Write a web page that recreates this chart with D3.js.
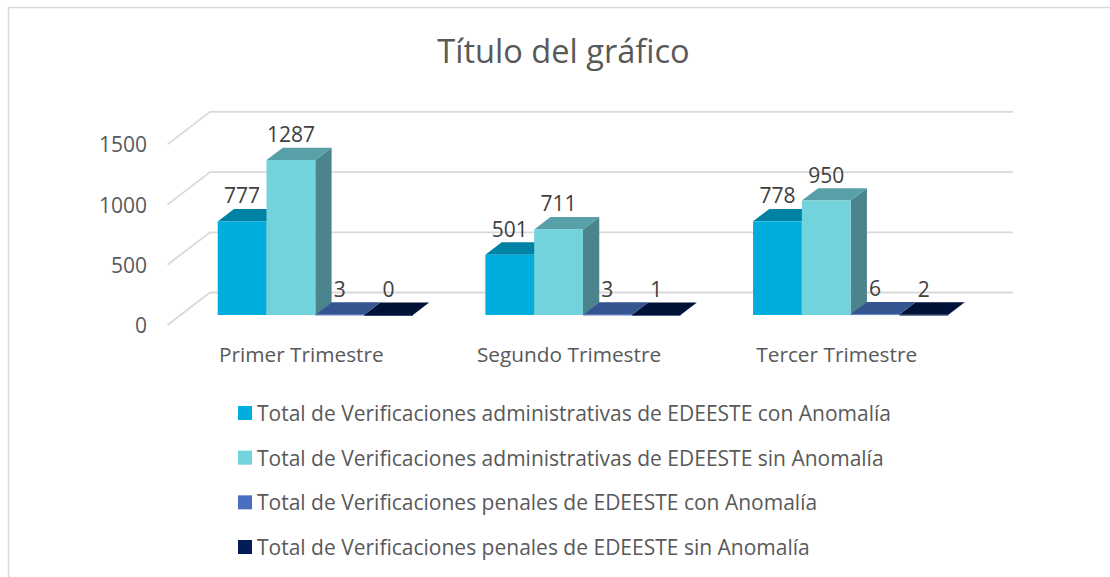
<!DOCTYPE html>
<html><head><meta charset="utf-8">
<script src="https://cdn.jsdelivr.net/npm/d3@7"></script>
<style>html,body{margin:0;padding:0;background:#fff;overflow:hidden}svg{display:block}text{font-family:"Open Sans",sans-serif}</style>
</head><body><svg id="c" width="1110" height="577"></svg>
<script>
const titleText = "Título del gráfico";
const categories = ["Primer Trimestre","Segundo Trimestre","Tercer Trimestre"];
const seriesNames = [
 "Total de Verificaciones administrativas de EDEESTE con Anomalía",
 "Total de Verificaciones administrativas de EDEESTE sin Anomalía",
 "Total de Verificaciones penales de EDEESTE con Anomalía",
 "Total de Verificaciones penales de EDEESTE sin Anomalía"];
const seriesFront = ["#00aedd","#73d3dd","#4a6fc0","#021d55"];
const seriesTop   = ["#0081a6","#58a0a8","#34558f","#011238"];
const seriesSide  = ["#006f8f","#4b848c","#2c4a7c","#010f30"];
const seriesValues = [[777,501,778],[1287,711,950],[3,3,6],[0,1,2]];
const yTicks = [0,500,1000,1500];

const svg = d3.select("#c");
const F = {dx:16.3, dy:-12.4};
const W = {dx:42.5, dy:-32.5};
const y = d3.scaleLinear().domain([0,1500]).range([325,144.4]);
const x0 = d3.scaleBand().domain(categories).range([167.5,970.5]);
const barW = 48.8, firstOff = 50.2;
const x1 = d3.scaleBand().domain(d3.range(4)).range([0,barW*4]);

svg.append("path").attr("d","M8.5 577V7.5H1110").attr("fill","none").attr("stroke","#d9d9d9").attr("stroke-width",1.5);

svg.append("text").attr("x",563.5).attr("y",63).attr("text-anchor","middle")
  .attr("font-size",32.6).attr("fill","#595959").text(titleText);

const grid = svg.append("g").attr("fill","none").attr("stroke","#d9d9d9").attr("stroke-width",1.8);
yTicks.forEach(t=>{
  const yy=y(t);
  grid.append("path").attr("d",`M${x0.range()[0]} ${yy}L${x0.range()[0]+W.dx} ${yy+W.dy}H${x0.range()[1]+W.dx}`);
  svg.append("text").attr("x",147).attr("y",yy+8).attr("text-anchor","end")
    .attr("font-size",21).attr("fill","#595959").text(t);
});

const baseY = 315;
const h = v => y(0)-y(v);
const labels = [];
categories.forEach((c,ci)=>{
  const g = svg.append("g");
  seriesValues.forEach((vals,si)=>{
    const v = vals[ci], l = x0(c)+firstOff+x1(si), r = l+barW, t = baseY-h(v);
    g.append("path").attr("fill",seriesSide[si])
      .attr("d",`M${r} ${t}l${F.dx} ${F.dy}V${baseY+F.dy}l${-F.dx} ${-F.dy}Z`);
    g.append("path").attr("fill",seriesTop[si])
      .attr("d",`M${l} ${t}l${F.dx} ${F.dy}H${r+F.dx}l${-F.dx} ${-F.dy}Z`);
    g.append("rect").attr("x",l).attr("y",t).attr("width",barW).attr("height",Math.max(h(v),0.8)).attr("fill",seriesFront[si]);
    labels.push({x:l+barW/2,y:t-18,v});
  });
});
labels.forEach(d=>svg.append("text").attr("x",d.x).attr("y",d.y).attr("text-anchor","middle")
  .attr("font-size",21).attr("fill","#404040").text(d.v));

categories.forEach(c=>svg.append("text").attr("x",x0(c)+x0.bandwidth()/2).attr("y",362)
  .attr("text-anchor","middle").attr("font-size",20.8).attr("fill","#595959").text(c));

const ly = d3.scalePoint().domain(d3.range(4)).range([413,547]);
seriesNames.forEach((n,i)=>{
  svg.append("rect").attr("x",238).attr("y",ly(i)-7).attr("width",14).attr("height",14).attr("fill",seriesFront[i]);
  svg.append("text").attr("x",257).attr("y",ly(i)+8).attr("font-size",21).attr("fill","#595959").text(n);
});
</script></body></html>
